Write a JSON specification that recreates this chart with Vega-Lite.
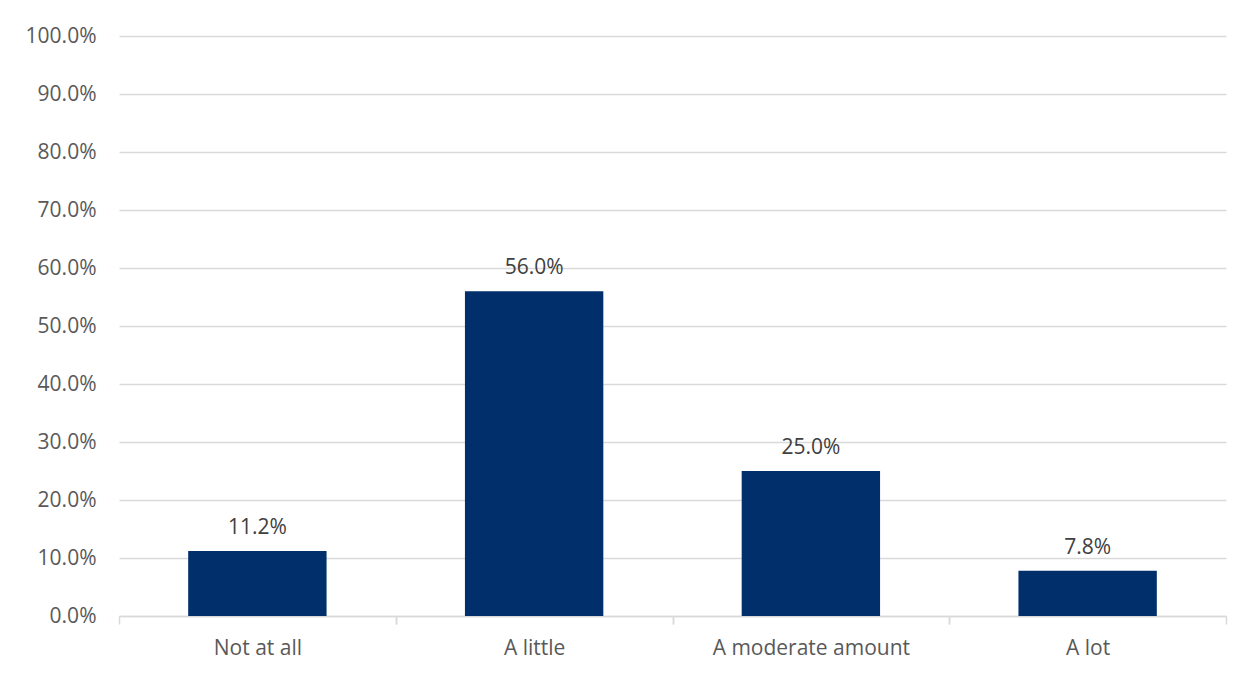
{
  "$schema": "https://vega.github.io/schema/vega-lite/v6.json",
  "width": 1107,
  "height": 580,
  "autosize": {"type": "none"},
  "padding": {"left": 119, "top": 36, "right": 27, "bottom": 59},
  "background": "white",
  "config": {
    "view": {"stroke": null},
    "font": "Open Sans"
  },
  "data": {
    "values": [
      {"response": "Not at all", "share": 0.112},
      {"response": "A little", "share": 0.56},
      {"response": "A moderate amount", "share": 0.25},
      {"response": "A lot", "share": 0.078}
    ]
  },
  "resolve": {"axis": {"x": "independent"}},
  "layer": [
    {
      "mark": {"type": "bar", "color": "#002F6C"},
      "encoding": {
        "x": {
          "field": "response",
          "type": "nominal",
          "sort": null,
          "scale": {"paddingInner": 0.5, "paddingOuter": 0.25},
          "axis": {
            "orient": "bottom",
            "title": null,
            "labelAngle": 0,
            "labelFont": "Open Sans",
            "labelFontSize": 21,
            "labelColor": "#595959",
            "labelPadding": 13,
            "labelLimit": 0,
            "labelOverlap": false,
            "domainColor": "#d9d9d9",
            "domainWidth": 1.5,
            "tickColor": "#d9d9d9",
            "tickWidth": 1.5,
            "tickSize": 8,
            "tickBand": "center",
            "tickOffset": -138.375,
            "labelOffset": 138.375
          }
        },
        "y": {
          "field": "share",
          "type": "quantitative",
          "scale": {"domain": [0, 1]},
          "axis": {
            "title": null,
            "format": ".1%",
            "values": [0, 0.1, 0.2, 0.3, 0.4, 0.5, 0.6, 0.7, 0.8, 0.9, 1.0],
            "labelOverlap": false,
            "domain": false,
            "ticks": false,
            "labelFont": "Open Sans",
            "labelFontSize": 21,
            "labelColor": "#595959",
            "labelPadding": 23,
            "gridColor": "#d9d9d9",
            "gridWidth": 1.5
          }
        }
      }
    },
    {
      "mark": {
        "type": "text",
        "baseline": "bottom",
        "dy": -13,
        "font": "Open Sans",
        "fontSize": 21,
        "color": "#404040"
      },
      "encoding": {
        "x": {
          "field": "response",
          "type": "nominal",
          "sort": null,
          "axis": {
            "orient": "bottom",
            "title": null,
            "labels": false,
            "domain": false,
            "grid": false,
            "tickColor": "#d9d9d9",
            "tickWidth": 1.5,
            "tickSize": 8,
            "tickBand": "center",
            "tickOffset": 138.375
          }
        },
        "y": {"field": "share", "type": "quantitative"},
        "text": {"field": "share", "type": "quantitative", "format": ".1%"}
      }
    }
  ]
}
